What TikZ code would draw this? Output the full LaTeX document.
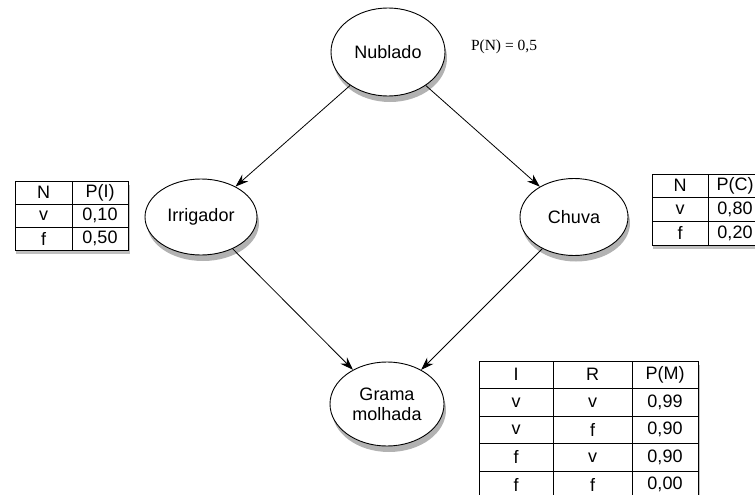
\documentclass[tikz,border=0pt]{standalone}
\usepackage{fontspec}
\setmainfont{Liberation Sans}
\newfontfamily\serifo{Liberation Serif}
\usetikzlibrary{shapes.geometric, arrows.meta, matrix, shadows}
\tikzstyle{var} = [ellipse, minimum width = 112pt, minimum height = 80pt, inner sep = 0pt, align = center, draw = black, line width = 0.9pt, fill = white, drop shadow = {shadow xshift = 2pt, shadow yshift = -6pt, opacity = 0.3, fill = black}]
\tikzstyle{tabela} = [matrix of nodes, inner sep = 0pt, fill = white, column sep = -0.8pt, row sep = -0.8pt, drop shadow = {shadow xshift = 1.5pt, shadow yshift = -4pt, opacity = 0.25, fill = black}, nodes = {draw = black, line width = 0.8pt, inner sep = 0pt, anchor = center, text centered}]
\tikzstyle{arrow} = [line width = 0.8pt, -{Stealth[length = 13pt, width = 9pt]}]

\begin{document}
\begin{tikzpicture}[x = 1pt, y = -1pt, node distance = 165pt, font = \fontsize{18}{20}\selectfont]
    \useasboundingbox (0,0) rectangle (755,495);
    \begin{scope}
    \clip (0,0) rectangle (755,495);
    \node(nub)[var, minimum width = 114pt, minimum height = 88pt] at (388,52) {Nublado};
    \node(irr)[var, minimum height = 76pt, below of = nub, xshift = -187pt]{Irrigador};
    \node(chu)[var, minimum width = 108pt, minimum height = 77pt, below of = nub, xshift = 186pt]{Chuva};
    \node(gra)[var, minimum width = 114pt, minimum height = 84pt, below of = irr, xshift = 186pt, yshift = -22pt]{Grama\\molhada};
    \node(pn)[font = \serifo\fontsize{15.5}{18}\selectfont] at (504,47) {P(N) = 0,5};

    \draw[arrow](nub)--(irr);
    \draw[arrow](nub)--(chu);
    \draw[arrow](irr)--(gra);
    \draw[arrow](chu)--(gra);

    % tabelas
    \matrix(tabI)[tabela, nodes = {minimum height = 23pt}, column 1/.style = {nodes = {minimum width = 57pt}}, column 2/.style = {nodes = {minimum width = 56pt}}] at (71.5,215.5) {
        N & P(I) \\
        v & 0,10 \\
        f & 0,50 \\
    };
    \matrix(tabC)[tabela, nodes = {minimum height = 23.7pt}, column 1/.style = {nodes = {minimum width = 56pt}}, column 2/.style = {nodes = {minimum width = 54pt}}] at (707,209.5) {
        N & P(C) \\
        v & 0,80 \\
        f & 0,20 \\
    };
    \matrix(tabM)[tabela, nodes = {minimum height = 27.5pt}, column 1/.style = {nodes = {minimum width = 74pt}}, column 2/.style = {nodes = {minimum width = 79pt}}, column 3/.style = {nodes = {minimum width = 66pt}}] at (588.5,429.75) {
        I & R & P(M) \\
        v & v & 0,99 \\
        v & f & 0,90 \\
        f & v & 0,90 \\
        f & f & 0,00 \\
    };
    \end{scope}
\end{tikzpicture}
\end{document}
